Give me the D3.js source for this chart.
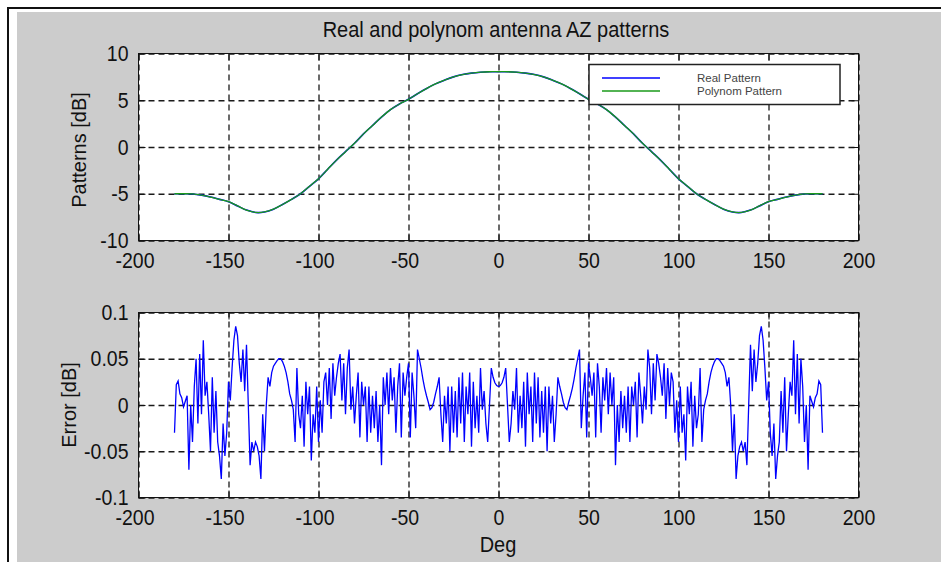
<!DOCTYPE html>
<html><head><meta charset="utf-8">
<script src="https://cdn.jsdelivr.net/npm/d3@7"></script>
<style>
html,body{margin:0;padding:0;background:#fff;}
svg text{font-family:"Liberation Sans",Arial,sans-serif;fill:#111;}
.stretch{transform-box:fill-box;transform-origin:center;transform:scaleY(1.12);}
</style></head><body>
<svg id="chart" width="941" height="562"></svg>
<script>
const titleText = "Real and polynom antenna AZ patterns";
const xLabelText = "Deg";
const yLabelTop = "Patterns [dB]";
const yLabelBottom = "Error [dB]";
const legendLabels = ["Real Pattern", "Polynom Pattern"];
const xTicks = [-200, -150, -100, -50, 0, 50, 100, 150, 200];
const patternTicks = [-10, -5, 0, 5, 10];
const errorTicks = [-0.1, -0.05, 0, 0.05, 0.1];

const patternDeg = d3.range(-180, 181, 5);
const realPattern = [-5.0,-5.0,-5.02,-5.15,-5.35,-5.6,-5.85,-6.3,-6.75,-7.0,-6.95,-6.65,-6.15,-5.6,-5.0,-4.2,-3.4,-2.4,-1.4,-0.5,0.4,1.4,2.3,3.2,4.0,4.6,5.1,5.7,6.25,6.75,7.15,7.5,7.75,7.9,8.0,8.05,8.05,8.05,8.0,7.9,7.75,7.5,7.15,6.75,6.25,5.7,5.1,4.6,4.0,3.2,2.3,1.4,0.4,-0.5,-1.4,-2.4,-3.4,-4.2,-5.0,-5.6,-6.15,-6.65,-6.95,-7.0,-6.75,-6.3,-5.85,-5.6,-5.35,-5.15,-5.02,-5.0,-5.0];
const polyPattern = [-5.0,-5.0,-5.02,-5.15,-5.35,-5.6,-5.85,-6.3,-6.75,-7.0,-6.95,-6.65,-6.15,-5.6,-5.0,-4.2,-3.4,-2.4,-1.4,-0.5,0.4,1.4,2.3,3.2,4.0,4.6,5.1,5.7,6.25,6.75,7.15,7.5,7.75,7.9,8.0,8.05,8.05,8.05,8.0,7.9,7.75,7.5,7.15,6.75,6.25,5.7,5.1,4.6,4.0,3.2,2.3,1.4,0.4,-0.5,-1.4,-2.4,-3.4,-4.2,-5.0,-5.6,-6.15,-6.65,-6.95,-7.0,-6.75,-6.3,-5.85,-5.6,-5.35,-5.15,-5.02,-5.0,-5.0];

const errorDeg = d3.range(-180, 181, 1);
const errorValues = [
-0.03,0.022,0.026,0.012,0.008,-0.002,0.004,0.01,-0.07,0.0,
-0.04,0.02,0.05,-0.02,0.055,-0.01,0.07,0.01,0.025,-0.01,
-0.05,0.03,-0.03,0.015,-0.04,-0.055,-0.08,-0.02,-0.055,-0.03,
0.025,0.005,0.04,0.07,0.085,0.075,0.045,0.025,0.06,0.015,
0.065,0.0,-0.065,-0.04,-0.05,-0.04,-0.045,-0.055,-0.08,-0.01,
-0.05,0.0,0.03,0.02,0.035,0.042,0.045,0.048,0.05,0.05,
0.047,0.042,0.035,0.025,0.012,0.005,-0.005,-0.04,0.04,-0.01,
-0.025,0.01,-0.045,0.025,-0.01,0.02,-0.06,-0.01,-0.03,0.02,
-0.04,0.005,-0.03,0.025,0.035,0.0,0.04,-0.015,0.045,0.01,
0.03,0.045,0.055,0.005,0.045,-0.01,0.04,0.06,-0.005,0.02,
-0.02,0.01,0.035,-0.035,0.025,0.0,0.02,-0.04,0.02,-0.03,
0.01,-0.025,0.015,-0.04,0.0,-0.065,0.03,0.0,0.035,-0.01,
0.04,0.005,0.03,-0.03,0.02,0.045,-0.035,0.035,0.01,0.03,
0.045,-0.035,0.035,0.01,-0.025,0.06,0.05,0.04,0.028,0.018,
0.01,0.003,-0.005,-0.003,0.003,0.012,0.02,0.03,-0.01,-0.04,
0.01,-0.02,0.02,-0.05,0.02,-0.03,0.015,-0.035,0.03,-0.02,
0.035,-0.04,0.02,-0.01,0.035,-0.045,0.025,-0.025,0.01,-0.03,
0.04,-0.005,0.015,-0.02,-0.04,0.0,0.04,0.03,0.024,0.021,
0.02,
0.021,0.024,0.03,0.04,0.0,-0.04,-0.02,0.015,-0.005,0.04,
-0.03,0.01,-0.025,0.025,-0.045,0.035,-0.01,0.02,-0.04,0.035,
-0.02,0.03,-0.035,0.015,-0.03,0.02,-0.05,0.02,-0.02,0.01,
-0.04,-0.01,0.03,0.02,0.012,0.003,-0.003,-0.005,0.003,0.01,
0.018,0.028,0.04,0.05,0.06,-0.025,0.01,0.035,-0.035,0.045,
0.03,0.01,0.035,-0.035,0.045,0.02,-0.03,0.03,0.005,0.04,
-0.01,0.035,0.0,0.03,-0.065,0.0,-0.04,0.015,-0.025,0.01,
-0.03,0.02,-0.04,0.02,0.0,0.025,-0.035,0.035,0.01,-0.02,
0.02,-0.005,0.06,0.04,-0.01,0.045,0.005,0.055,0.045,0.03,
0.01,0.045,-0.015,0.04,0.0,0.035,0.025,-0.03,0.005,-0.04,
0.02,-0.03,-0.01,-0.06,0.02,-0.01,0.025,-0.045,0.01,-0.025,
-0.01,0.04,-0.04,-0.005,0.005,0.012,0.025,0.035,0.042,0.047,
0.05,0.05,0.048,0.045,0.042,0.035,0.02,0.03,0.0,-0.05,
-0.01,-0.08,-0.055,-0.045,-0.04,-0.05,-0.04,-0.065,0.0,0.065,
0.015,0.06,0.025,0.045,0.075,0.085,0.07,0.04,0.005,0.025,
-0.03,-0.055,-0.02,-0.08,-0.055,-0.04,0.015,-0.03,0.03,-0.05,
-0.01,0.025,0.01,0.07,-0.01,0.055,-0.02,0.05,0.02,-0.04,
0.0,-0.07,0.01,0.004,-0.002,0.008,0.012,0.026,0.022,-0.03
];

const svg = d3.select("#chart");
// window frame
svg.append("rect").attr("x",0).attr("y",0).attr("width",941).attr("height",562).attr("fill","#fff");
svg.append("rect").attr("x",17).attr("y",12).attr("width",924).attr("height",550).attr("fill","#cccccc");
svg.append("line").attr("x1",7).attr("x2",941).attr("y1",8).attr("y2",8).attr("stroke","#111").attr("stroke-width",2);
svg.append("line").attr("x1",8).attr("x2",8).attr("y1",7).attr("y2",562).attr("stroke","#111").attr("stroke-width",2);

const x = d3.scaleLinear().domain([-200,200]).range([138.5,858.5]);
const fmt = d => String(d);

function panel(yScale, yTicks, id) {
  const [y0, y1] = yScale.range(); // bottom, top
  const [xa, xb] = x.range();
  const g = svg.append("g");
  g.append("rect").attr("x",xa).attr("y",y1).attr("width",xb-xa).attr("height",y0-y1).attr("fill","#fff");
  // grid
  const gx = g.append("g").attr("transform",`translate(0,${y0})`)
    .call(d3.axisBottom(x).tickValues(xTicks).tickSize(-(y0-y1)).tickFormat(""));
  const gy = g.append("g").attr("transform",`translate(${xa},0)`)
    .call(d3.axisLeft(yScale).tickValues(yTicks).tickSize(-(xb-xa)).tickFormat(""));
  [gx, gy].forEach(a => {
    a.select(".domain").remove();
    a.selectAll("line").attr("stroke","#1a1a1a").attr("stroke-width",1.3).attr("stroke-dasharray","6,4");
  });
  // clip
  g.append("clipPath").attr("id",id).append("rect").attr("x",xa).attr("y",y1).attr("width",xb-xa).attr("height",y0-y1);
  // ticks + labels
  const bottom = g.append("g").attr("transform",`translate(0,${y0})`)
    .call(d3.axisBottom(x).tickValues(xTicks).tickSizeInner(-7).tickSizeOuter(0).tickPadding(13).tickFormat(fmt));
  const top = g.append("g").attr("transform",`translate(0,${y1})`)
    .call(d3.axisTop(x).tickValues(xTicks).tickSizeInner(-7).tickSizeOuter(0).tickFormat(""));
  const left = g.append("g").attr("transform",`translate(${xa},0)`)
    .call(d3.axisLeft(yScale).tickValues(yTicks).tickSizeInner(-7).tickSizeOuter(0).tickPadding(10).tickFormat(fmt));
  const right = g.append("g").attr("transform",`translate(${xb},0)`)
    .call(d3.axisRight(yScale).tickValues(yTicks).tickSizeInner(-7).tickSizeOuter(0).tickFormat(""));
  [bottom, top, left, right].forEach(a => {
    a.select(".domain").remove();
    a.selectAll("line").attr("stroke","#111").attr("stroke-width",1);
    a.selectAll("text").attr("font-size",19.5).attr("fill","#111").attr("font-family",null).classed("stretch",true);
  });
  bottom.selectAll("text").attr("dx", d => d < 0 ? -4 : 0);
  return {g, clip: id, frame: () => g.append("rect").attr("x",xa).attr("y",y1).attr("width",xb-xa).attr("height",y0-y1)
    .attr("fill","none").attr("stroke","#111").attr("stroke-width",1)};
}

// Top panel
const yTop = d3.scaleLinear().domain([-10,10]).range([240.5,53.5]);
const pTop = panel(yTop, patternTicks, "clipTop");
const lineTop = d3.line().x((d,i)=>x(patternDeg[i])).y(d=>yTop(d)).curve(d3.curveCatmullRom);
pTop.g.append("path").datum(realPattern).attr("d",lineTop).attr("fill","none").attr("stroke","#0000ff").attr("stroke-width",1.6).attr("clip-path","url(#clipTop)");
pTop.g.append("path").datum(polyPattern).attr("d",lineTop).attr("fill","none").attr("stroke","#1a9a1a").attr("stroke-width",1.3).attr("clip-path","url(#clipTop)");
pTop.frame();

// Legend
const lg = svg.append("g");
lg.append("rect").attr("x",589).attr("y",64.5).attr("width",251).attr("height",40).attr("fill","#fff").attr("stroke","#222").attr("stroke-width",1.5);
const legendColors = ["#0000ff","#1a9a1a"];
legendLabels.forEach((t,i) => {
  const yy = 78 + i*13;
  lg.append("line").attr("x1",602).attr("x2",660).attr("y1",yy).attr("y2",yy).attr("stroke",legendColors[i]).attr("stroke-width",1.5);
  lg.append("text").attr("x",697).attr("y",yy+4).attr("font-size",11.5).style("fill","#444").text(t);
});

// Bottom panel
const yBot = d3.scaleLinear().domain([-0.1,0.1]).range([497.5,312.5]);
const pBot = panel(yBot, errorTicks, "clipBot");
const lineBot = d3.line().x((d,i)=>x(errorDeg[i])).y(d=>yBot(d));
pBot.g.append("path").datum(errorValues).attr("d",lineBot).attr("fill","none").attr("stroke","#0000ff").attr("stroke-width",1.3).attr("clip-path","url(#clipBot)");
pBot.frame();

// Titles / labels
svg.append("text").attr("x",496).attr("y",36).attr("text-anchor","middle").attr("font-size",20).classed("stretch",true).text(titleText);
svg.append("text").attr("x",498).attr("y",551).attr("text-anchor","middle").attr("font-size",20).classed("stretch",true).text(xLabelText);
svg.append("text").attr("transform","translate(86,150) rotate(-90)").attr("text-anchor","middle").attr("font-size",20).text(yLabelTop);
svg.append("text").attr("transform","translate(76,405) rotate(-90)").attr("text-anchor","middle").attr("font-size",20).text(yLabelBottom);
</script>
</body></html>
